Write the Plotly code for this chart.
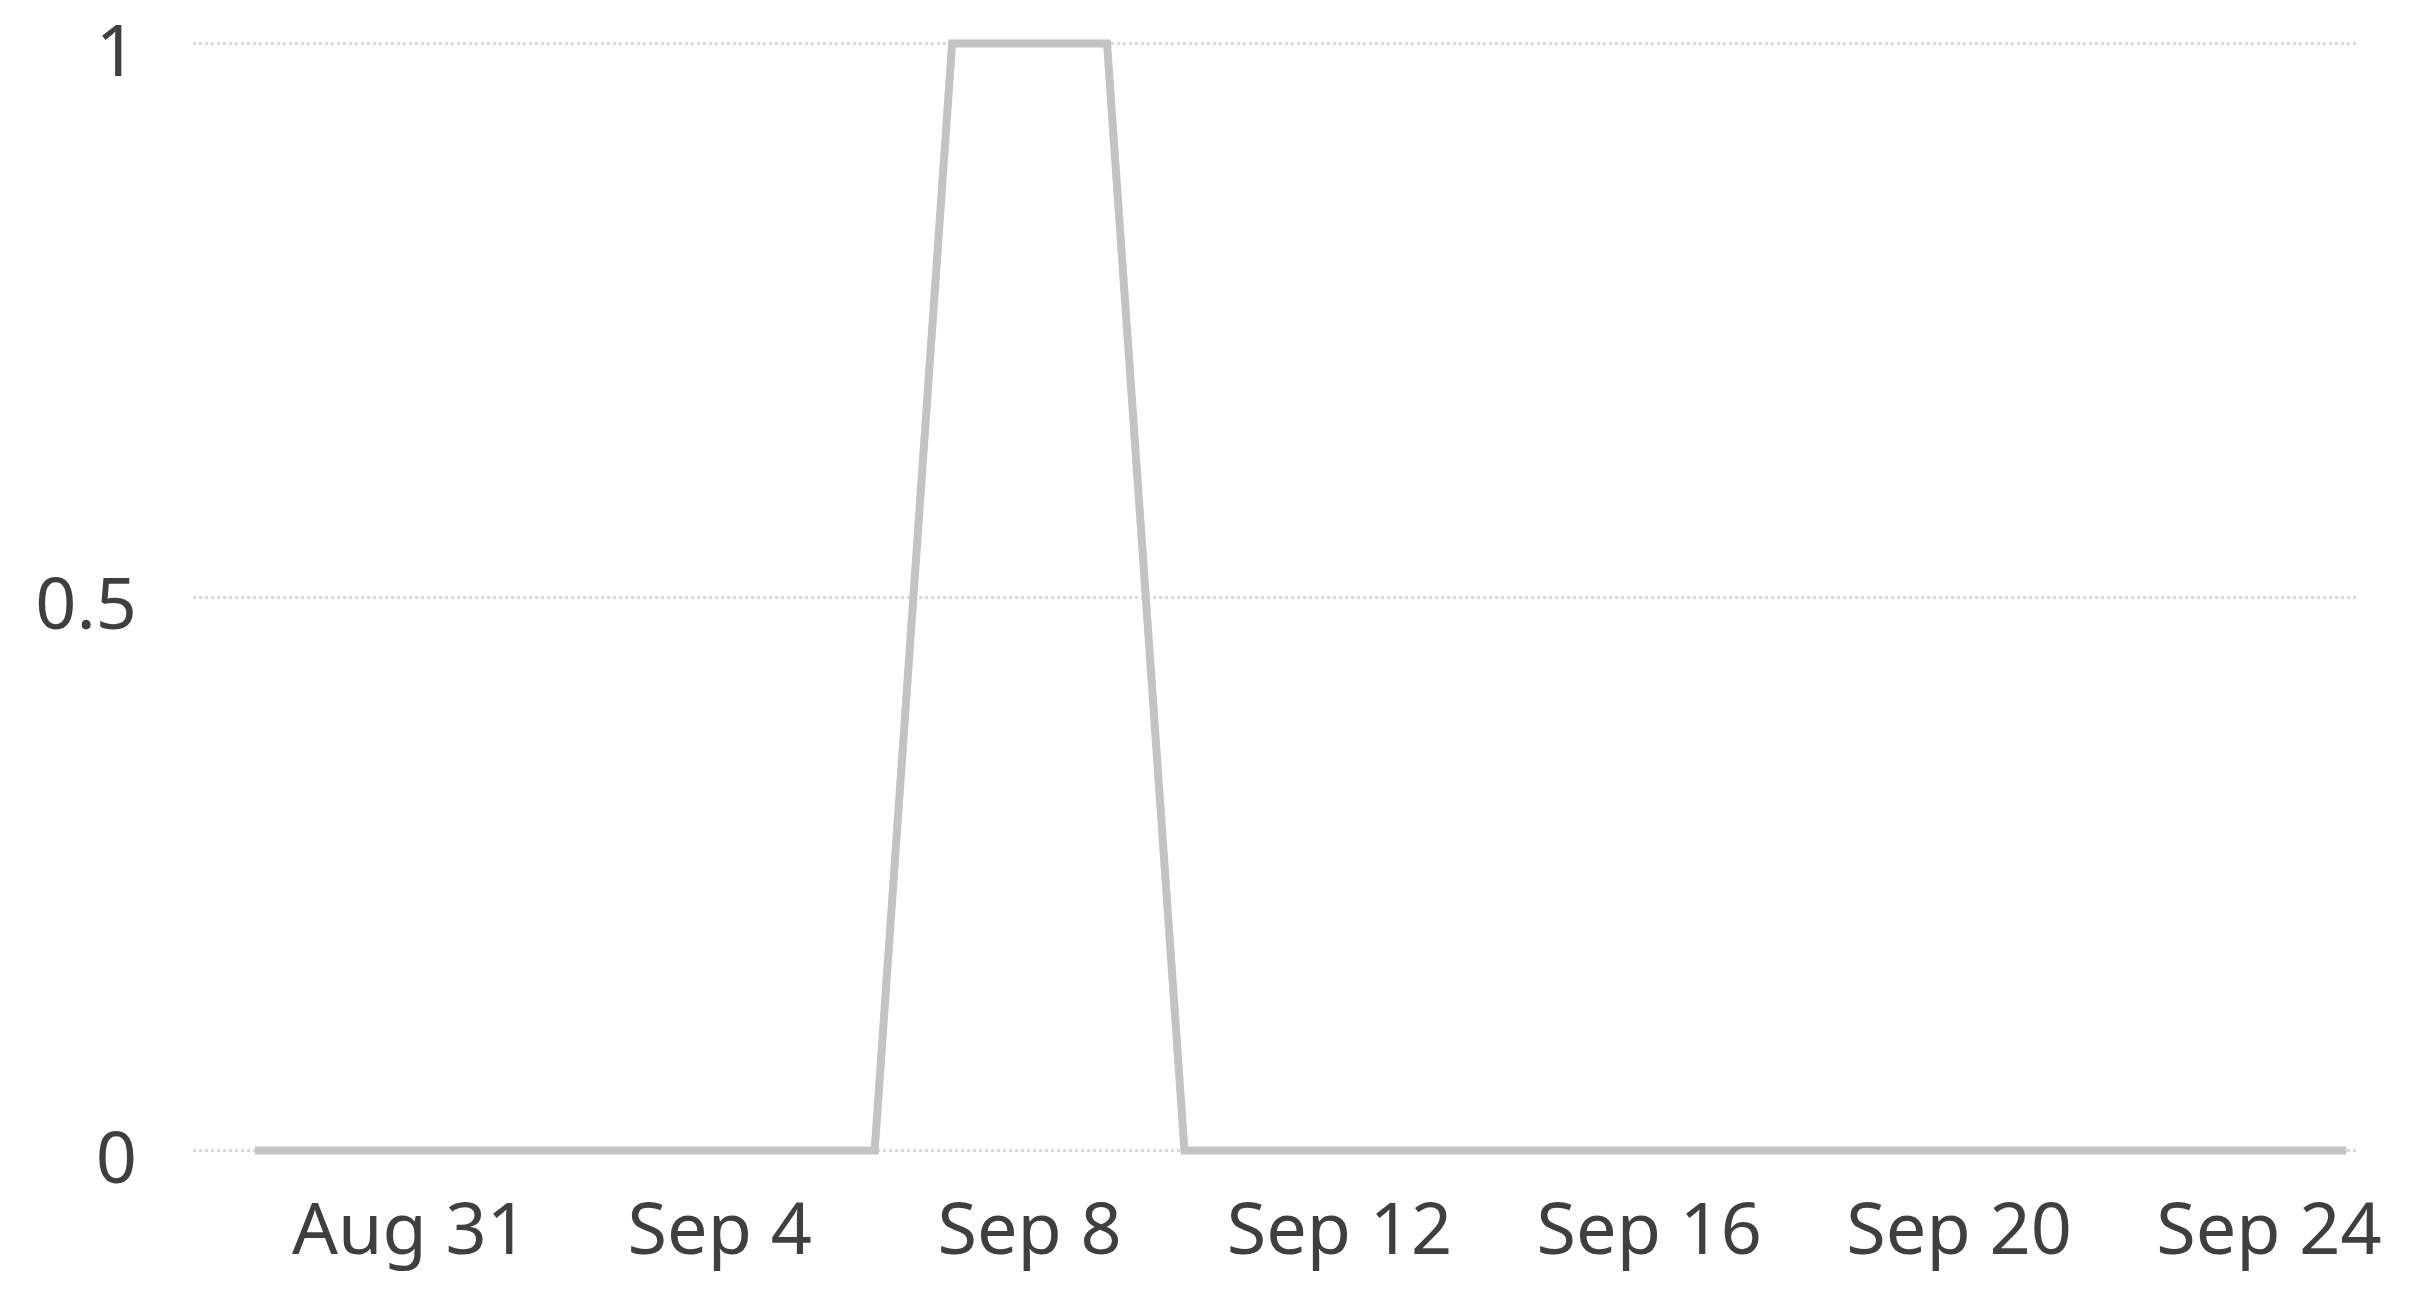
import plotly.graph_objects as go
import pandas as pd

dates = pd.date_range("2020-08-29", "2020-09-25", freq="D").strftime("%Y-%m-%d").tolist()
values = [0, 0, 0, 0, 0, 0, 0, 0, 0, 1, 1, 1, 0, 0, 0, 0, 0, 0, 0, 0, 0, 0, 0, 0, 0, 0, 0, 0]
y_ticks = [0, 0.5, 1]
y_tick_labels = ["0", "0.5", "1"]

fig = go.Figure()
fig.add_trace(go.Scatter(
    x=dates, y=values, mode="lines",
    line=dict(color="#c3c3c3", width=8),
    cliponaxis=False, showlegend=False,
))

fig.update_layout(
    width=2426, height=1306,
    margin=dict(l=185, r=76, t=30, b=158),
    paper_bgcolor="white", plot_bgcolor="white",
    font=dict(family="Noto Sans", size=72, color="#3f3f3f"),
)
fig.update_xaxes(
    type="date", automargin=False,
    range=["2020-08-28 04:48", "2020-09-25 03:36"],
    tick0="2020-08-31", dtick=4 * 86400000, tickformat="%b %-d",
    showgrid=False, zeroline=False, showline=False, ticks="",
    ticklabelstandoff=25,
)
fig.update_yaxes(
    automargin=False,
    range=[-0.005, 1.005],
    tickvals=y_ticks, ticktext=y_tick_labels,
    showgrid=True, gridcolor="#d9d9d9", gridwidth=3, griddash="dot",
    zeroline=False, showline=False, ticks="",
    ticklabelstandoff=55, ticklabelshift=7, ticklabeloverflow="allow",
)

fig.write_html("out.html")
